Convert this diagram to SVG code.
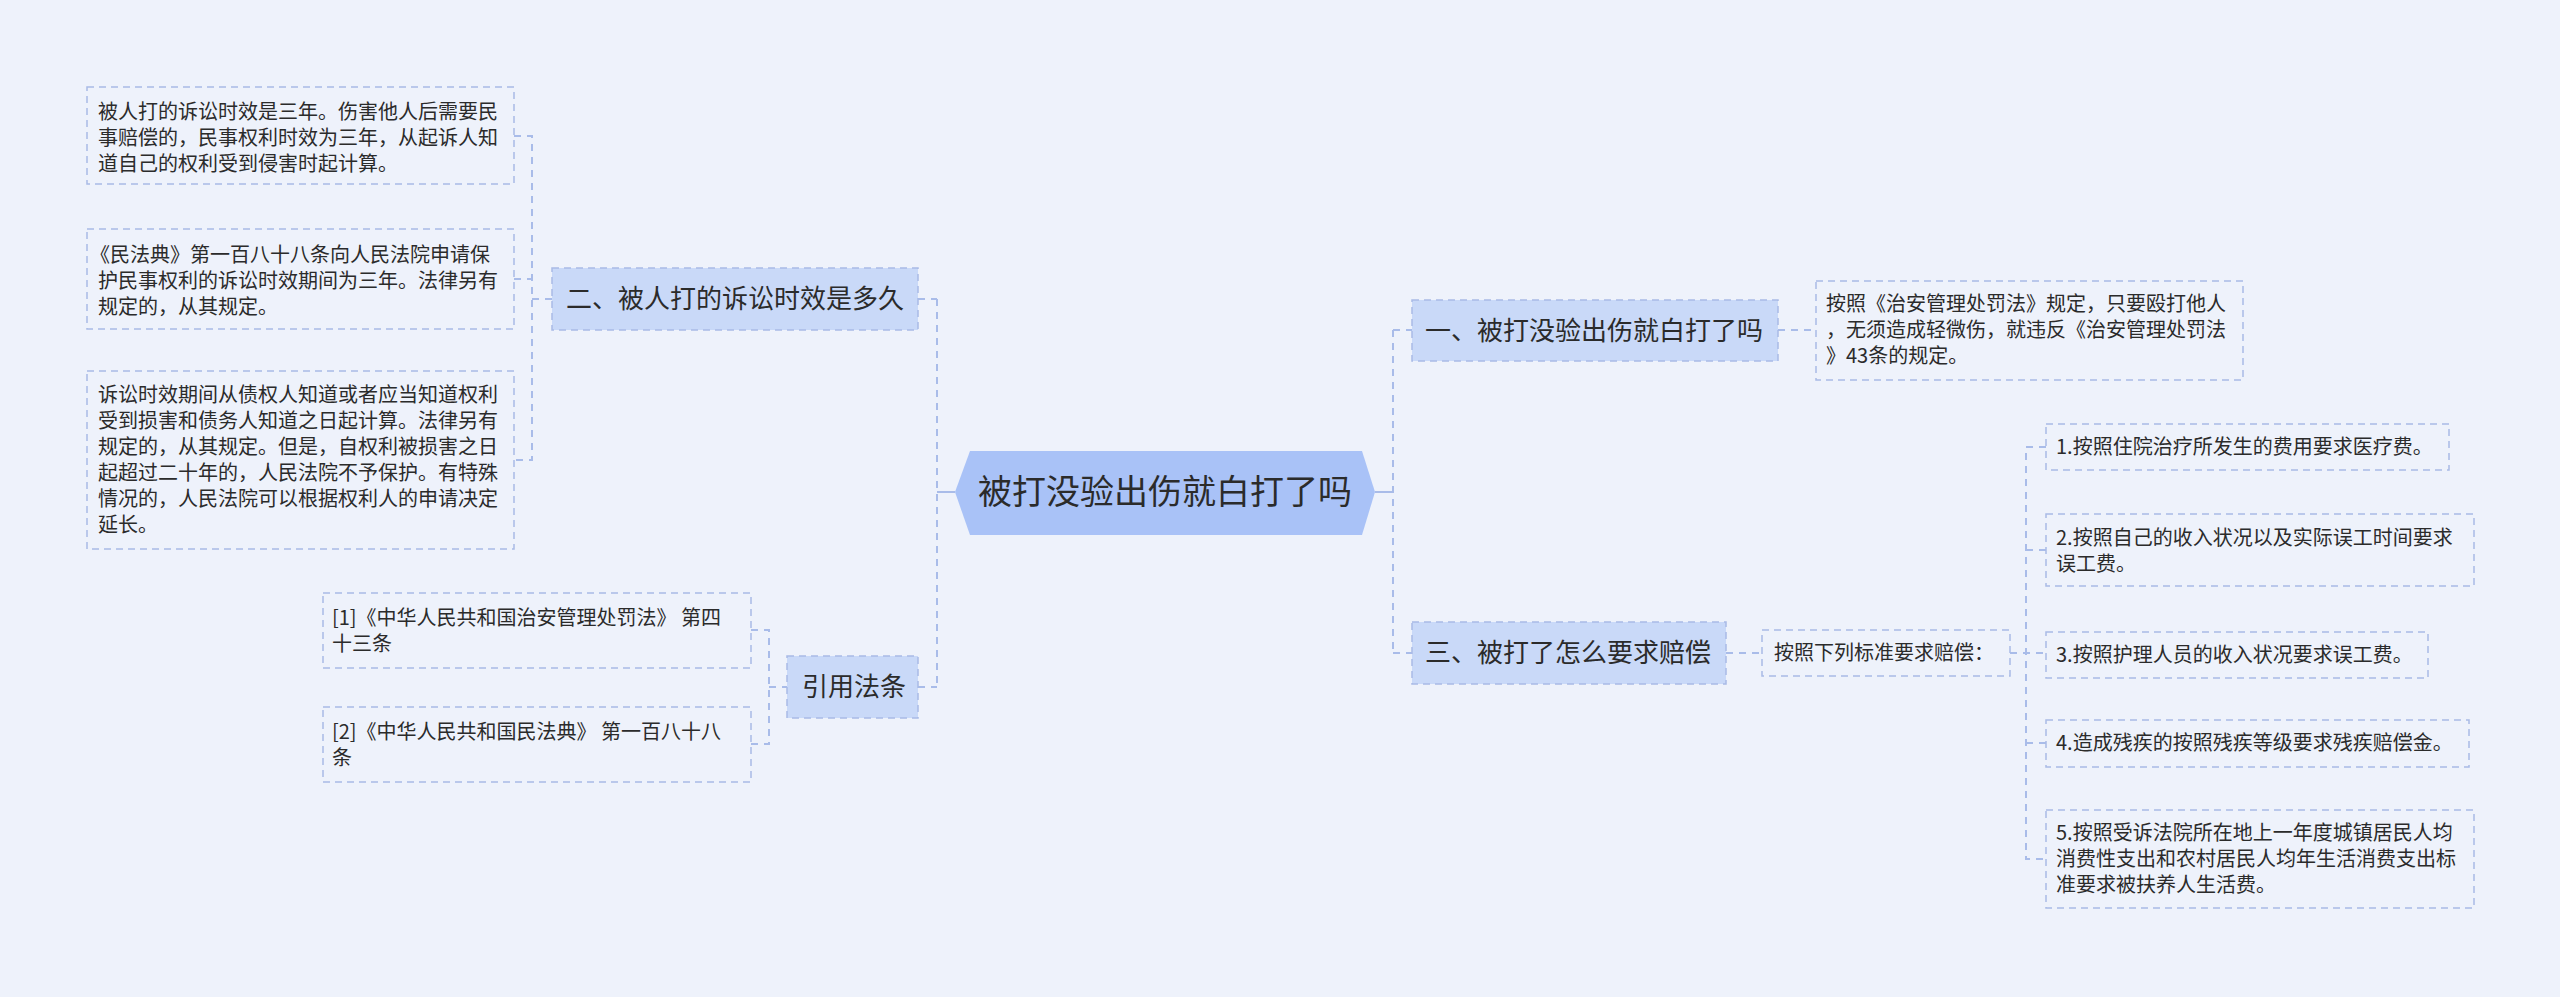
<svg xmlns="http://www.w3.org/2000/svg" width="2560" height="997" viewBox="0 0 2560 997">
<style>
text{font-family:"Noto Sans CJK SC","Noto Sans",sans-serif;fill:#2b2b2b}
.leaf{fill:#eef2fb;stroke:#a9bbe6;stroke-width:1.5;stroke-dasharray:7 5}
.sub{fill:#c9d9f8;stroke:#a9bbe6;stroke-width:1.5;stroke-dasharray:7 5}
.t20{font-size:20px}
.t26{font-size:26px}
.conn{fill:none;stroke:#a9bce9;stroke-width:2;stroke-dasharray:7 6}
.solid{fill:none;stroke:#a9bce9;stroke-width:2}
</style>
<rect width="2560" height="997" fill="#eef2fb"/>
<g id="connectors">
<path class="solid" d="M955 492H937M1375 492H1393"/>
<path class="conn" d="M937 299V687M918 299H937M918 687H937"/>
<path class="conn" d="M1393 330V653M1393 330H1412M1393 653H1412"/>
<path class="conn" d="M514 136H532V460H514M514 279H532M532 299H552"/>
<path class="conn" d="M751 630H769V744H751M769 687H787"/>
<path class="conn" d="M1778 330H1816"/>
<path class="conn" d="M1726 653H1762"/>
<path class="conn" d="M2010 653H2046M2046 447H2026V859H2046M2026 550H2046M2026 743H2046"/>
</g>
<g id="center">
<polygon points="955,492 970,451 1362,451 1375,492 1362,535 970,535" fill="#a9c2f7"/>
<text x="1165" y="504" font-size="34" text-anchor="middle">被打没验出伤就白打了吗</text>
</g>
<g id="n2">
<rect class="sub" x="552" y="268" width="366" height="62"/>
<text class="t26" x="566" y="308">二、被人打的诉讼时效是多久</text>
</g>
<g id="n2a">
<rect class="leaf" x="87" y="87" width="427" height="97"/>
<text class="t20" x="98" y="119">被人打的诉讼时效是三年。伤害他人后需要民</text>
<text class="t20" x="98" y="145">事赔偿的，民事权利时效为三年，从起诉人知</text>
<text class="t20" x="98" y="171">道自己的权利受到侵害时起计算。</text>
</g>
<g id="n2b">
<rect class="leaf" x="87" y="229" width="427" height="100"/>
<text class="t20" x="90" y="262">《民法典》第一百八十八条向人民法院申请保</text>
<text class="t20" x="98" y="288">护民事权利的诉讼时效期间为三年。法律另有</text>
<text class="t20" x="98" y="314">规定的，从其规定。</text>
</g>
<g id="n2c">
<rect class="leaf" x="87" y="371" width="427" height="178"/>
<text class="t20" x="98" y="402">诉讼时效期间从债权人知道或者应当知道权利</text>
<text class="t20" x="98" y="428">受到损害和债务人知道之日起计算。法律另有</text>
<text class="t20" x="98" y="454">规定的，从其规定。但是，自权利被损害之日</text>
<text class="t20" x="98" y="480">起超过二十年的，人民法院不予保护。有特殊</text>
<text class="t20" x="98" y="506">情况的，人民法院可以根据权利人的申请决定</text>
<text class="t20" x="98" y="532">延长。</text>
</g>
<g id="ref">
<rect class="sub" x="787" y="656" width="131" height="62"/>
<text class="t26" x="802" y="696">引用法条</text>
</g>
<g id="ref1">
<rect class="leaf" x="323" y="593" width="428" height="75"/>
<text class="t20" x="332" y="625">[1]《中华人民共和国治安管理处罚法》 第四</text>
<text class="t20" x="332" y="651">十三条</text>
</g>
<g id="ref2">
<rect class="leaf" x="323" y="707" width="428" height="75"/>
<text class="t20" x="332" y="739">[2]《中华人民共和国民法典》 第一百八十八</text>
<text class="t20" x="332" y="765">条</text>
</g>
<g id="n1">
<rect class="sub" x="1412" y="300" width="366" height="61"/>
<text class="t26" x="1425" y="340">一、被打没验出伤就白打了吗</text>
</g>
<g id="n1a">
<rect class="leaf" x="1816" y="281" width="427" height="99"/>
<text class="t20" x="1826" y="311">按照《治安管理处罚法》规定，只要殴打他人</text>
<text class="t20" x="1826" y="337">，无须造成轻微伤，就违反《治安管理处罚法</text>
<text class="t20" x="1826" y="363">》43条的规定。</text>
</g>
<g id="n3">
<rect class="sub" x="1412" y="622" width="314" height="62"/>
<text class="t26" x="1425" y="662">三、被打了怎么要求赔偿</text>
</g>
<g id="n3a">
<rect class="leaf" x="1762" y="630" width="248" height="46"/>
<text class="t20" x="1774" y="660">按照下列标准要求赔偿：</text>
</g>
<g id="i1">
<rect class="leaf" x="2046" y="424" width="403" height="46"/>
<text class="t20" x="2056" y="454">1.按照住院治疗所发生的费用要求医疗费。</text>
</g>
<g id="i2">
<rect class="leaf" x="2046" y="514" width="428" height="72"/>
<text class="t20" x="2056" y="545">2.按照自己的收入状况以及实际误工时间要求</text>
<text class="t20" x="2056" y="571">误工费。</text>
</g>
<g id="i3">
<rect class="leaf" x="2046" y="632" width="382" height="46"/>
<text class="t20" x="2056" y="662">3.按照护理人员的收入状况要求误工费。</text>
</g>
<g id="i4">
<rect class="leaf" x="2046" y="720" width="423" height="47"/>
<text class="t20" x="2056" y="750">4.造成残疾的按照残疾等级要求残疾赔偿金。</text>
</g>
<g id="i5">
<rect class="leaf" x="2046" y="810" width="428" height="98"/>
<text class="t20" x="2056" y="840">5.按照受诉法院所在地上一年度城镇居民人均</text>
<text class="t20" x="2056" y="866">消费性支出和农村居民人均年生活消费支出标</text>
<text class="t20" x="2056" y="892">准要求被扶养人生活费。</text>
</g>
</svg>
